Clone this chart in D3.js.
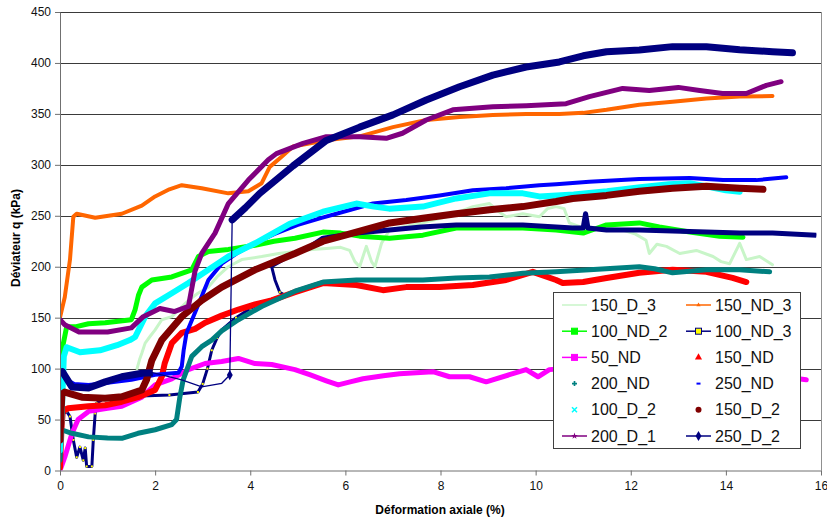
<!DOCTYPE html>
<html><head><meta charset="utf-8">
<script src="https://cdn.jsdelivr.net/npm/d3@7"></script>
<style>body{margin:0;background:#fff}svg{display:block;font-family:"Liberation Sans",Arial,sans-serif}</style>
</head><body><svg id="c" width="827" height="524"></svg>
<script>
const xTicks=[0,2,4,6,8,10,12,14,16];
const yTicks=[0,50,100,150,200,250,300,350,400,450];
const names=["150_D_3","150_ND_3","100_ND_2","100_ND_3","50_ND","150_ND","200_ND","250_ND","100_D_2","150_D_2","200_D_1","250_D_2"];
const s150_D_3=[[1.62,100],[1.68,110],[1.72,115],[1.79,125],[1.9,132],[2.0,138],[2.14,148],[2.35,151],[2.5,158],[2.7,167],[2.9,174],[3.12,180],[3.3,190],[3.54,200],[3.82,207],[4.24,210],[4.6,213],[4.94,215],[5.3,217],[5.6,218],[5.9,219],[6.09,216],[6.2,205],[6.3,200],[6.44,220],[6.55,205],[6.62,200],[6.76,223],[6.93,236],[7.3,240],[7.63,243],[8.12,249],[8.4,254],[8.68,259],[9.03,262],[9.2,255],[9.38,249],[9.73,252],[10.08,249],[10.25,257],[10.43,259],[10.6,257],[10.71,243],[11.13,236],[11.5,238],[11.83,236],[12.1,232],[12.32,226],[12.39,213],[12.55,222],[12.75,220],[13.03,213],[13.38,216],[13.73,210],[13.9,205],[14.08,203],[14.29,223],[14.43,207],[14.71,210],[14.98,202]];
const s150_ND_3=[[0,150],[0.1,170],[0.21,207],[0.28,249],[0.35,252],[0.74,248],[1.3,252],[1.72,260],[2.0,269],[2.3,276],[2.56,280],[2.98,277],[3.54,272],[3.96,274],[4.24,282],[4.41,298],[4.66,308],[4.9,318],[5.6,324],[6.3,328],[7.0,337],[7.7,344],[8.4,347],[9.1,349],[9.8,350],[10.5,350],[11.0,351],[11.49,354],[12.18,359],[12.88,362],[13.59,365],[14.29,367],[14.98,367.5]];
const s100_ND_2=[[0.02,70],[0.05,120],[0.14,141],[0.32,141],[0.6,144],[0.95,145],[1.5,148],[1.58,158],[1.65,172],[1.72,180],[1.93,187],[2.35,190],[2.77,197],[2.91,210],[3.12,215],[3.54,217],[4.1,221],[4.5,225],[4.94,228],[5.53,234],[5.9,233],[6.3,230],[6.93,228],[7.63,231],[8.33,238],[9.03,238],[9.73,238],[10.08,237],[10.43,236],[11.0,233],[11.3,238],[11.49,241],[12.18,243],[12.6,239],[13.24,234],[13.87,230],[14.36,229]];
const s100_ND_3=[[0,0],[0.03,30],[0.07,56],[0.14,58],[0.21,53],[0.28,30],[0.35,13],[0.42,23],[0.49,10],[0.53,22],[0.56,4],[0.67,4],[0.7,30],[0.74,56],[0.77,66],[0.9,70],[1.3,72],[1.7,73],[2.3,74],[2.9,77],[3.0,85],[3.1,100],[3.19,118],[3.3,130],[3.4,138],[3.7,150],[4.0,159],[4.3,166],[4.73,172],[4.62,175],[4.52,187],[4.45,200],[4.94,213],[5.3,221],[5.53,228],[6.23,233],[6.93,236],[7.6,239],[8.33,241],[9.03,241],[9.73,241],[10.43,239],[10.78,238],[11.0,238],[11.05,252],[11.1,238],[11.49,236],[12.18,236],[12.88,235],[13.59,234],[14.29,233],[14.98,233],[15.9,231]];
const s50_ND=[[0,0],[0.1,13],[0.25,36],[0.38,50],[0.6,58],[1.0,61],[1.3,63],[1.72,72],[2.0,84],[2.35,90],[2.7,99],[3.05,105],[3.4,107],[3.75,110],[4.1,105],[4.45,104],[4.94,99],[5.25,94],[5.6,88],[5.85,84],[6.1,87],[6.37,90],[6.8,93],[7.14,95],[7.84,97],[8.19,92],[8.61,92],[8.96,87],[9.45,94],[9.8,99],[10.05,92],[10.29,99],[10.6,100],[11.5,98],[12.5,96],[13.5,95],[14.5,94],[15.2,92],[15.69,89]];
const s150_ND=[[0,3],[0.03,40],[0.06,59],[0.17,61],[0.6,63],[0.95,64],[1.3,67.5],[1.64,72],[2.0,79],[2.14,92],[2.2,105],[2.35,125],[2.56,135],[2.84,139],[3.05,145],[3.4,152],[3.75,158],[4.1,163],[4.45,167],[4.94,175],[5.53,184],[6.23,182],[6.79,177],[7.28,180],[7.98,180],[8.68,182],[9.38,187],[9.94,195],[10.43,187],[10.57,184],[11.0,185],[11.49,189],[12.18,194],[12.88,197],[13.59,195],[14.14,189],[14.43,185]];
const s200_ND=[[0,10],[0.03,40],[0.25,36.5],[0.6,33],[1.0,32],[1.3,31.6],[1.64,36.5],[2.0,40],[2.35,45],[2.45,50],[2.52,72],[2.59,89],[2.77,112],[2.98,121.5],[3.19,128],[3.4,137],[3.75,148],[4.24,161],[4.94,176],[5.53,185],[6.23,187],[6.93,187],[7.63,187],[8.33,189],[9.03,190],[9.73,193.5],[10.43,195],[11.13,197],[12.18,200],[12.5,198],[12.88,194],[13.59,197],[14.29,197],[14.92,195]];
const s250_ND=[[0,97],[0.1,90],[0.3,85],[0.6,84],[1.0,86],[1.5,89],[2.0,94],[2.49,96],[2.56,102],[2.6,118],[2.66,135],[2.84,155],[3.12,187],[3.4,203],[3.75,214],[4.1,223],[4.5,232],[5.0,241],[5.5,248],[5.81,252],[6.58,262],[7.28,265.5],[7.98,270],[8.68,275],[9.38,277],[10.08,280],[10.43,281],[11.13,283.4],[12.18,286],[13.24,287],[13.94,285],[14.64,285],[15.27,287.7]];
const s100_D_2=[[0,20],[0.04,60],[0.08,112],[0.14,121],[0.42,116],[0.84,118],[1.2,123],[1.47,128],[1.58,131],[1.79,151],[2.0,164],[2.35,174],[2.7,184],[3.12,197],[3.54,210],[4.1,223],[4.83,242],[5.53,254],[6.23,262],[6.6,259],[6.92,257],[7.63,259],[8.33,267],[9.03,272],[9.73,272],[10.08,269],[10.8,271],[11.5,274],[12.2,278],[12.8,281],[13.24,282],[14.0,275],[14.29,273.6]];
const s150_D_2=[[0,30],[0.02,55],[0.04,75],[0.1,77],[0.46,72],[0.95,71],[1.3,72.4],[1.72,79],[1.82,89],[1.93,108],[2.14,128],[2.56,151],[2.98,167],[3.4,180],[4.1,197],[4.94,213],[5.53,225],[6.23,234],[6.93,243],[7.63,247.5],[8.33,252],[9.03,256],[9.73,259],[10.43,264],[10.78,267],[11.49,270],[12.18,274],[12.88,277],[13.59,279],[14.29,277],[14.78,276]];
const s200_D_1=[[0,148],[0.1,143],[0.4,136],[1.0,136],[1.5,140],[1.75,151],[2.1,159],[2.4,156],[2.7,161],[2.84,196],[2.98,213],[3.26,233],[3.54,262],[3.96,285],[4.38,305],[4.55,311],[5.11,321],[5.6,327.6],[6.3,327.6],[6.86,326],[7.2,331],[7.7,344],[8.26,354],[9.1,357],[9.8,358],[10.64,360],[11.13,367],[11.83,375],[12.39,373],[13.0,376],[13.45,373],[13.93,370],[14.43,370],[14.85,378],[15.16,381.6]];
const s250_D_2=[[0,0],[0.01,95],[0.05,97],[0.25,82],[0.6,81],[0.95,87],[1.3,92],[1.72,95.4],[1.95,96],[2.56,89],[2.98,82],[3.4,85.6],[3.57,93.7],[3.62,246],[3.9,258],[4.2,272],[4.9,299],[5.6,324],[6.3,337],[7.0,349],[7.7,363.6],[8.4,376.7],[9.1,388],[9.8,396],[10.5,401],[11.0,407],[11.49,411],[12.18,412.7],[12.88,416],[13.59,416],[14.29,413],[14.98,411],[15.4,410]];
const seriesData=[s150_D_3,s150_ND_3,s100_ND_2,s100_ND_3,s50_ND,s150_ND,s200_ND,s250_ND,s100_D_2,s150_D_2,s200_D_1,s250_D_2];

const colors=["#c8f5c8","#ff6600","#00ff00","#000080","#ff00ff","#ff0000","#008080","#0000ff","#00ffff","#800000","#800080","#000080"];
const widths=[3,4,5,4,5,6,5,4,6,7,5,7];
const markers=["none","tri","square","square","square","tri","plus","dash","x","circle","star","diamond"];
const hasLine=[1,1,1,1,1,0,0,0,0,0,1,1];

const svg=d3.select("#c");
const L=60,R=821,T=12,B=470.5;
const x=d3.scaleLinear().domain([0,16]).range([L,R]);
const y=d3.scaleLinear().domain([0,450]).range([B,T]);

svg.append("g").selectAll("line").data(yTicks.filter(v=>v>0)).join("line")
 .attr("x1",L).attr("x2",R).attr("y1",d=>Math.round(y(d))+0.5).attr("y2",d=>Math.round(y(d))+0.5)
 .attr("stroke","#3a3a3a").attr("stroke-width",1);
svg.append("line").attr("x1",R+0.5).attr("x2",R+0.5).attr("y1",T).attr("y2",B).attr("stroke","#909090");

svg.append("clipPath").attr("id","pc").append("rect").attr("x",L).attr("y",T-4).attr("width",R-L+4).attr("height",B-T+4);
const plot=svg.append("g").attr("clip-path","url(#pc)");
const line=d3.line().x(d=>x(d[0])).y(d=>y(d[1]));

seriesData.forEach((s,i)=>{
  if(names[i]==="250_D_2"){
    plot.append("path").attr("d",line(s)).attr("fill","none").attr("stroke",colors[i]).attr("stroke-width",1.3);
    plot.append("path").attr("d",line(s.slice(1,9))).attr("fill","none").attr("stroke",colors[i]).attr("stroke-width",widths[i]).attr("stroke-linejoin","round");
    plot.append("path").attr("d",line(s.slice(13))).attr("fill","none").attr("stroke",colors[i]).attr("stroke-width",widths[i]).attr("stroke-linejoin","round").attr("stroke-linecap","round");
    plot.append("path").attr("d",d3.symbol(d3.symbolDiamond,30)()).attr("transform",`translate(${x(s[12][0])},${y(s[12][1])})`).attr("fill",colors[i]);
  } else if(names[i]==="100_ND_3"){
    plot.append("path").attr("d",line(s)).attr("fill","none").attr("stroke",colors[i]).attr("stroke-width",3).attr("stroke-linejoin","round");
    plot.append("path").attr("d",line(s.slice(33))).attr("fill","none").attr("stroke",colors[i]).attr("stroke-width",widths[i]+1).attr("stroke-linejoin","round");
    plot.append("g").selectAll("rect").data(s.slice(0,30)).join("rect")
      .attr("x",d=>x(d[0])-1).attr("y",d=>y(d[1])-1).attr("width",2).attr("height",2).attr("fill","#ffff00");
  } else {
    plot.append("path").attr("d",line(s)).attr("fill","none").attr("stroke",colors[i]).attr("stroke-width",widths[i]).attr("stroke-linejoin","round").attr("stroke-linecap","round");
  }
});

const ya=svg.append("g").attr("transform",`translate(${L},0)`).call(d3.axisLeft(y).tickValues(yTicks).tickSize(5).tickSizeOuter(0).tickPadding(4));
const xa=svg.append("g").attr("transform",`translate(0,${B})`).call(d3.axisBottom(x).tickValues(xTicks).tickSize(5).tickSizeOuter(0).tickPadding(6));
[ya,xa].forEach(a=>{a.selectAll("path,line").attr("stroke","#707070");a.selectAll("text").attr("font-size",12).attr("fill","#111").attr("font-family","'Liberation Sans',Arial,sans-serif");});

svg.append("text").attr("x",440).attr("y",514).attr("text-anchor","middle").attr("font-size",12).attr("font-weight","bold").text("Déformation axiale (%)");
svg.append("text").attr("transform","translate(20,238) rotate(-90)").attr("text-anchor","middle").attr("font-size",12).attr("font-weight","bold").text("Déviateur q (kPa)");

const lg=svg.append("g");
lg.append("rect").attr("x",553.5).attr("y",292.5).attr("width",247).attr("height",156).attr("fill","#fff").attr("stroke","#404040");
names.forEach((n,i)=>{
  const col=i%2,row=Math.floor(i/2);
  const x0=col?686:562,cy=305+row*26.2;
  const g=lg.append("g");
  if(hasLine[i]) g.append("line").attr("x1",x0).attr("x2",x0+25).attr("y1",cy).attr("y2",cy).attr("stroke",colors[i]).attr("stroke-width",1.5);
  const mx=x0+12.5, m=markers[i];
  const c=colors[i];
  if(m==="square") g.append("rect").attr("x",mx-3).attr("y",cy-3).attr("width",6).attr("height",6).attr("fill",names[i]==="100_ND_3"?"#ffff00":c).attr("stroke",c);
  else if(m==="tri") g.append("path").attr("d",d3.symbol(d3.symbolTriangle,names[i]==="150_ND"?22:8)()).attr("transform",`translate(${mx},${cy})`).attr("fill",c);
  else if(m==="plus") g.append("path").attr("d",d3.symbol(d3.symbolCross,14)()).attr("transform",`translate(${mx},${cy})`).attr("fill",c);
  else if(m==="dash") g.append("rect").attr("x",mx-2).attr("y",cy-1).attr("width",4).attr("height",2).attr("fill",c);
  else if(m==="x") g.append("path").attr("d",d3.symbol(d3.symbolX,18)()).attr("transform",`translate(${mx},${cy})`).attr("stroke",c).attr("stroke-width",1.5);
  else if(m==="circle") g.append("circle").attr("cx",mx).attr("cy",cy).attr("r",3).attr("fill",c);
  else if(m==="star") g.append("path").attr("d",d3.symbol(d3.symbolStar,14)()).attr("transform",`translate(${mx},${cy})`).attr("fill",c);
  else if(m==="diamond") g.append("path").attr("d",d3.symbol(d3.symbolDiamond,30)()).attr("transform",`translate(${mx},${cy})`).attr("fill",c);
  g.append("text").attr("x",x0+29).attr("y",cy+5.5).attr("font-size",16).attr("fill","#111").text(n);
});
</script></body></html>
